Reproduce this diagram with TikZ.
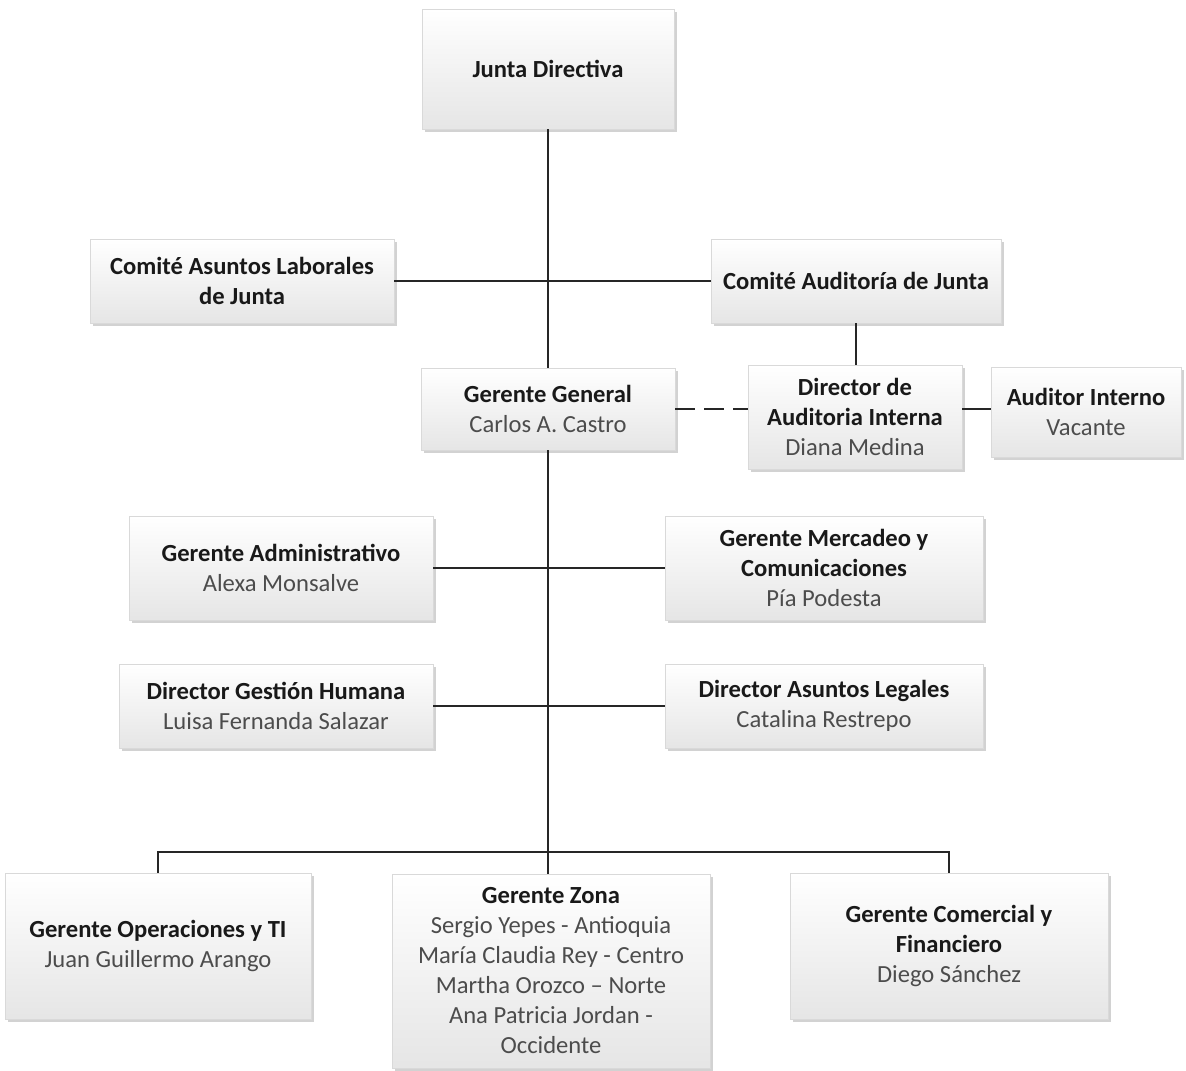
\documentclass[tikz,border=0pt]{standalone}
\usepackage{fontspec}
\setmainfont{Carlito}
\usetikzlibrary{shadows}
\newcommand{\persona}[1]{{\color{black!70}#1}}

\begin{document}
\begin{tikzpicture}[x=0.5pt,y=-0.5pt,
    cargo/.style 2 args={draw=black!15, top color=white, bottom color=black!10,
      minimum width=#1*0.5pt, minimum height=#2*0.5pt, inner sep=0pt,
      align=center, text=black!90, font=\fontsize{12.3}{15}\selectfont,
      drop shadow={shadow xshift=1.4pt,shadow yshift=-1.4pt,fill=black!35,opacity=0.5}},
    linea/.style={draw=black!85, line width=0.6pt}]
  \useasboundingbox (0,0) rectangle (1186,1070);

  \node[cargo={252}{120}] (junta)       at (548,69)   {\textbf{Junta Directiva}};
  \node[cargo={304}{84}]  (c_laboral)   at (242,281)  {\textbf{Comité Asuntos Laborales}\\\textbf{de Junta}};
  \node[cargo={290}{84}]  (c_audit)     at (856,281)  {\textbf{Comité Auditoría de Junta}};
  \node[cargo={254}{82}]  (g_general)   at (548,409)  {\textbf{Gerente General}\\\persona{Carlos A. Castro}};
  \node[cargo={214}{104}] (d_audit)     at (855,417)  {\textbf{Director de}\\\textbf{Auditoria Interna}\\\persona{Diana Medina}};
  \node[cargo={190}{90}]  (a_interno)   at (1086,412) {\textbf{Auditor Interno}\\\persona{Vacante}};
  \node[cargo={304}{104}] (g_admin)     at (281,568)  {\textbf{Gerente Administrativo}\\\persona{Alexa Monsalve}};
  \node[cargo={318}{104}] (g_mercadeo)  at (824,568)  {\textbf{Gerente Mercadeo y}\\\textbf{Comunicaciones}\\\persona{Pía Podesta}};
  \node[cargo={314}{84}]  (d_humana)    at (276,706)  {\textbf{Director Gestión Humana}\\\persona{Luisa Fernanda Salazar}};
  \node[cargo={318}{84}]  (d_legal)     at (824,706)  {\textbf{Director Asuntos Legales}\\\persona{Catalina Restrepo}};
  \node[cargo={306}{146}] (g_operac)    at (158,946)  {\textbf{Gerente Operaciones y TI}\\\persona{Juan Guillermo Arango}};
  \node[cargo={318}{194}] (g_zona)      at (551,971)  {\textbf{Gerente Zona}\\\persona{Sergio Yepes - Antioquia}\\\persona{María Claudia Rey - Centro}\\\persona{Martha Orozco – Norte}\\\persona{Ana Patricia Jordan -}\\\persona{Occidente}};
  \node[cargo={318}{146}] (g_comercial) at (949,946)  {\textbf{Gerente Comercial y}\\\textbf{Financiero}\\\persona{Diego Sánchez}};

  \coordinate (bus) at (548,852);

  \draw[linea] (junta) -- (g_general);
  \draw[linea] (c_laboral) -- (c_audit);
  \draw[linea] (c_audit.south) -- (c_audit.south |- d_audit.north);
  \draw[linea, dash pattern=on 10pt off 4.5pt] (g_general.east) -- (g_general.east -| d_audit.west);
  \draw[linea] (g_general.east -| d_audit.east) -- (g_general.east -| a_interno.west);
  \draw[linea] (g_general) -- (bus);
  \draw[linea] (g_admin) -- (g_mercadeo);
  \draw[linea] (d_humana) -- (d_legal);
  \draw[linea] (g_operac.north) |- (bus) -| (g_comercial.north);
  \draw[linea] (bus) -- (bus |- g_zona.north);
\end{tikzpicture}
\end{document}
